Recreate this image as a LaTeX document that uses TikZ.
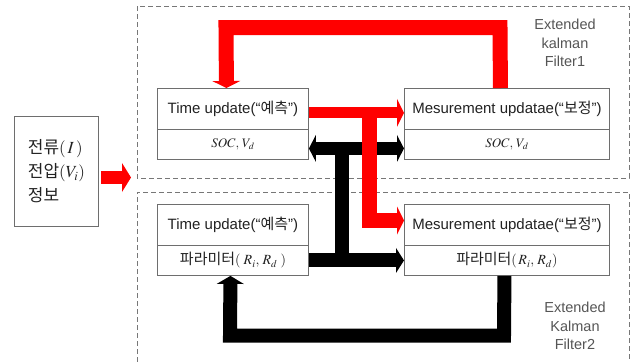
\documentclass[tikz,border=0pt]{standalone}
\usepackage{mathptmx}
\usepackage{fontspec}
\setmainfont{Liberation Sans}
\newfontfamily\kr{Noto Sans CJK KR}
\usetikzlibrary{arrows.meta}
\definecolor{boxgray}{HTML}{6E6E6E}
\definecolor{dashgray}{HTML}{777777}
\definecolor{txt}{HTML}{222222}
\definecolor{lbl}{HTML}{555555}
\tikzset{
  box/.style={draw=boxgray, line width=0.9pt, fill=white, inner sep=0pt, anchor=north west, text=txt},
  upbox/.style={box, minimum height=41pt, font=\fontsize{15}{18}\selectfont},
  lowbox/.style={box, minimum height=30pt, font=\fontsize{13}{16}\selectfont},
  narrow/.style={minimum width=151pt},
  wide/.style={minimum width=205pt},
  dbox/.style={draw=dashgray, line width=1pt, dash pattern=on 5pt off 3pt},
  redarr/.style={draw=red, line width=#1, line join=miter, -{Triangle[width=28pt,length=7pt,line width=0pt]}},
  blkarr/.style={draw=black, line width=#1, line join=miter, -{Triangle[width=27pt,length=8pt,line width=0pt]}},
  blkline/.style={draw=black, line width=#1},
  ekf/.style={text=lbl, align=center, font=\fontsize{14.5}{18.5}\selectfont},
}
\newcommand{\krb}[1]{{\fontsize{15}{18}\selectfont\kr #1}}
\begin{document}
\begin{tikzpicture}[x=1pt,y=-1pt]
\useasboundingbox (0,0) rectangle (633,362);
% dashed frames
\draw[dbox] (137,6) rectangle (629,178);
\draw[dbox] (137,362) -- (137,192) -- (629,192) -- (629,362);
% input box
\node[draw=boxgray, line width=0.9pt, inner sep=0pt, minimum width=84pt, minimum height=110pt, anchor=north west, align=left, text=txt, font=\fontsize{17}{24}\selectfont] (LB) at (14,116)
  {{\kr 전류}$(\,I\,)$\\{\kr 전압}$(V_i)$\\{\kr 정보}};
% filter boxes
\node[upbox, narrow] (TLu) at (157,88) {Time update(“{\kr 예측}”)};
\node[lowbox, narrow] (TLl) at (157,129) {$SOC,\,V_d$};
\node[upbox, wide] (TRu) at (404,88) {Mesurement updatae(“{\kr 보정}”)};
\node[lowbox, wide] (TRl) at (404,129) {$SOC,\,V_d$};
\node[upbox, narrow] (BLu) at (157,204) {Time update(“{\kr 예측}”)};
\node[lowbox, narrow, font=\fontsize{14}{16}\selectfont] (BLl) at (157,245) {\krb{파라미터}$(\;R_i,\,R_d\;)$};
\node[upbox, wide] (BRu) at (404,204) {Mesurement updatae(“{\kr 보정}”)};
\node[lowbox, wide, font=\fontsize{14}{16}\selectfont] (BRl) at (404,245) {\krb{파라미터}$(\,R_i,\,R_d)$};
% labels
\node[ekf] (ekf1) at (565,43) {Extended\\kalman\\Filter1};
\node[ekf] (ekf2) at (575,326) {Extended\\Kalman\\Filter2};
% coordinates
\coordinate (inp) at (131,177.5);
\coordinate (t1) at (500,27.5);
\coordinate (t2) at (226,27.5);
\coordinate (b1) at (504,335.5);
\coordinate (b2) at (230,335.5);
\coordinate (j1) at (342,148);
\coordinate (j2) at (342,260);
\coordinate (r1) at (369,112.5);
\coordinate (r2) at (369,220.5);
% black connectors
\draw[blkline=14pt] (j1) -- (j2);
\draw[blkarr=13pt, {Triangle[width=27pt,length=7pt,line width=0pt]}-{Triangle[width=27pt,length=7pt,line width=0pt]}] ([yshift=-4pt]TLl.east) -- ([yshift=-4pt]TRl.east -| TRl.west);
\draw[blkarr=14pt, -{Triangle[width=25pt,length=8pt,line width=0pt]}] (BLl.east) -- (BRl.west);
\draw[blkarr=14pt] ([xshift=-2.5pt]BRl.south) -- (b1) -- (b2) -- ([xshift=-2.5pt]BLl.south);
% red connectors
\draw[redarr=13pt, -{Triangle[width=29pt,length=9pt,line width=0pt]}] ([xshift=2pt]LB.east |- inp) -- (inp);
\draw[redarr=15pt] ([xshift=-6.5pt]TRu.north) -- (t1) -- (t2) -- ([xshift=-6.5pt]TLu.north);
\draw[redarr=11pt] ([yshift=-4pt]TLu.east) -- ([yshift=-4pt]TRu.west);
\draw[redarr=15pt] (r1) -- (r2) -- (BRu.west |- r2);
\end{tikzpicture}
\end{document}
